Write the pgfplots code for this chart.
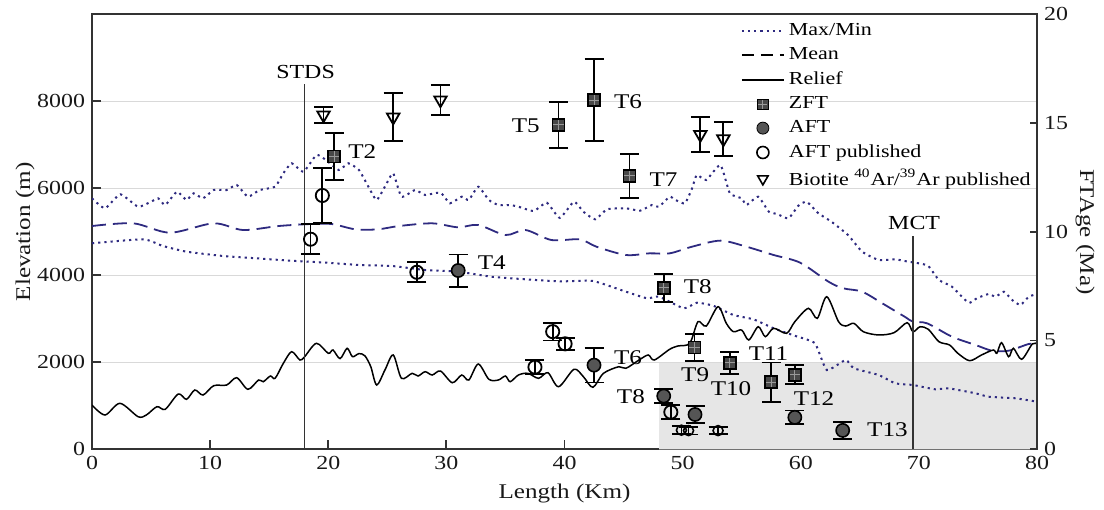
\documentclass[border=0pt]{standalone}
\usepackage{fontspec}
\setmainfont{Liberation Serif}[FakeStretch=1.2]
\usepackage{pgfplots}
\pgfplotsset{compat=1.18}
\usepackage{pgfplotstable}

\definecolor{navyline}{HTML}{2E2A80}
\definecolor{axcol}{HTML}{333333}
\definecolor{shade}{HTML}{E6E6E6}
\definecolor{gridc}{HTML}{D9D9D9}
\definecolor{markfill}{HTML}{555555}
\definecolor{zftfill}{HTML}{484848}

% square with a light cross inside (ZFT)
\pgfdeclareplotmark{zft}{%
  \pgfpathrectangle{\pgfqpoint{-\pgfplotmarksize}{-\pgfplotmarksize}}{\pgfqpoint{2\pgfplotmarksize}{2\pgfplotmarksize}}%
  \pgfusepathqfillstroke
  \pgfscope
  \pgfsetstrokecolor{gray!80}%
  \pgfsetlinewidth{0.5bp}%
  \pgfpathmoveto{\pgfqpoint{-0.85\pgfplotmarksize}{0pt}}\pgfpathlineto{\pgfqpoint{0.85\pgfplotmarksize}{0pt}}%
  \pgfpathmoveto{\pgfqpoint{0pt}{-0.85\pgfplotmarksize}}\pgfpathlineto{\pgfqpoint{0pt}{0.85\pgfplotmarksize}}%
  \pgfusepathqstroke
  \endpgfscope
}

% elevation profiles (km, m)
\pgfplotstableread{
x y
0 5770
1.1 5540
2.4 5862
3.9 5577
5.0 5692
5.6 5770
6.2 5616
7.2 5922
8.0 5731
8.6 5885
9.4 5770
10.3 5961
11.4 5961
12.25 6076
13.2 5807
14.2 5961
15.5 6037
16.2 6345
16.9 6575
17.9 6382
19.0 6766
19.8 6651
20.9 6421
21.7 6575
22.6 6421
23.4 6037
24.1 5731
24.95 6115
25.5 6345
26.2 5807
27.35 5961
28.2 5846
29.5 5900
30.3 5655
31.3 5807
31.9 5731
32.7 6037
33.6 5731
34.4 5616
35.4 5616
36.1 5577
37.4 5478
38.5 5669
39.6 5320
40.8 5692
41.6 5462
42.6 5287
43.6 5517
45.2 5540
46.4 5485
47.4 5616
48.0 5577
48.9 5807
49.4 5731
50.2 5655
50.8 6000
51.2 6306
52.0 6191
53.2 6536
54.0 5885
55.0 5770
55.4 5616
56.4 5807
57.3 5462
58.0 5409
58.96 5310
59.8 5600
60.5 5692
61.5 5425
62.6 5232
64.0 4926
65.2 4543
66.6 4352
68.0 4367
69.1 4313
70.0 4276
70.8 4214
71.7 3892
72.8 3738
74.2 3370
74.9 3471
75.9 3570
76.5 3508
77.2 3623
77.9 3432
78.6 3317
79.3 3508
80 3570
}\maxtab

\pgfplotstableread{
x y
0 4736
4.35 4828
6.0 4674
8.0 4543
11.1 4444
13.9 4391
16.8 4336
19.9 4290
22.6 4237
25.4 4214
28.2 4122
31.0 4083
33.8 3968
36.7 3908
39.6 3860
42.4 3870
45.2 3623
47.0 3471
48.0 3508
50.1 3241
51.2 3370
52.6 3300
54.3 3087
56.0 2988
57.7 2782
59.5 2610
61.2 2437
62.2 1823
63.8 2053
64.5 1862
66.6 1708
68.0 1517
69.5 1478
71.4 1379
72.5 1402
74.8 1287
75.9 1209
78.2 1172
80 1094
}\mintab

\pgfplotstableread{
x y
0 5133
3.5 5195
6.6 4980
10.3 5195
12.8 5041
15.8 5133
18.5 5179
20.3 5179
22.3 5057
24.2 5057
26.0 5133
28.8 5195
31.0 5103
32.7 5157
35.0 4926
36.7 5041
38.9 4811
41.3 4826
42.7 4658
45.2 4467
47.2 4505
48.9 4505
50.8 4658
53.2 4797
55.4 4658
57.7 4467
59.95 4290
62.35 3853
63.6 3701
65.2 3623
66.9 3356
68.8 3048
69.5 2933
70.7 2896
72.8 2589
74.8 2398
76.2 2267
77.6 2267
79.3 2421
80 2421
}\meantab

\pgfplotstableread{
x y
0 1018
1.1 789
2.37 1057
3.9 750
4.6 789
5.5 980
6.2 920
7.3 1271
8.0 1149
8.7 1363
9.4 1248
10.3 1462
11.4 1478
12.25 1646
13.2 1379
14.1 1593
14.5 1554
15.1 1685
15.5 1632
16.2 1977
16.9 2244
17.6 2053
18.0 2129
19.0 2437
20.0 2207
20.4 2283
21.0 2085
21.6 2322
22.05 2130
22.6 2200
23.1 2150
23.6 1900
24.1 1478
24.8 1823
25.5 2168
26.2 1632
27.1 1747
27.6 1685
28.2 1784
28.8 1708
29.5 1800
30.5 1531
31.3 1708
31.9 1593
32.7 1961
33.6 1609
34.4 1593
35.0 1685
35.4 1554
36.1 1708
36.9 1747
37.8 1632
38.6 1761
39.5 1439
40.8 1839
41.6 1669
42.4 1425
43.3 1747
44.6 1899
45.2 1862
46.4 2069
47.1 2168
47.6 2053
48.9 2299
49.6 2375
50.6 2437
51.3 2933
52.0 2834
53.0 3278
53.7 2896
54.3 2703
55.0 2742
55.6 2513
56.4 2818
57.0 2589
57.7 2782
58.8 2667
59.5 2934
60.65 3241
61.4 3011
62.2 3508
63.2 2934
63.8 2834
64.5 2896
65.3 2703
66.6 2628
67.9 2681
69.0 2911
69.5 2703
70.1 2818
70.8 2759
71.7 2474
72.6 2398
73.3 2207
74.3 2037
75.3 2168
76.3 2283
76.6 2207
77.0 2451
77.6 2129
78.0 2322
78.7 2069
79.6 2421
80 2421
}\relieftab

% ages (km, Ma, error)
\pgfplotstableread{
x y e
20.5 13.46 1.09
39.5 14.92 1.05
42.5 16.06 1.90
45.5 12.57 1.00
48.4 7.42 0.64
51.0 4.68 0.61
54.0 3.97 0.51
57.5 3.09 0.90
59.5 3.43 0.44
}\zfttab

\pgfplotstableread{
x y e
31.0 8.22 0.74
42.5 3.87 0.80
48.4 2.45 0.31
51.05 1.60 0.40
59.5 1.47 0.31
63.55 0.87 0.40
}\afttab

\pgfplotstableread{
x y e
18.5 9.66 0.69
19.5 11.67 1.28
27.5 8.14 0.46
37.5 3.78 0.33
39.0 5.41 0.41
40.05 4.85 0.28
49.0 1.71 0.33
}\aftpubtab

\pgfplotstableread{
x y e
49.9 0.88 0.18
50.5 0.86 0.18
53.0 0.86 0.15
}\aftpubsmall

\pgfplotstableread{
x y e
19.6 15.37 0.38
25.5 15.27 1.10
29.5 16.06 0.69
51.5 14.47 0.80
53.45 14.27 0.78
}\biotab

\begin{document}
\begin{tikzpicture}
\pgfplotsset{
  base/.style={
    scale only axis, width=472.5bp, height=217.5bp,
    xmin=0, xmax=80,
    axis line style={axcol, line width=0.9bp},
    tick style={axcol, line width=0.9bp},
    tick align=inside,
    scaled y ticks=false, scaled x ticks=false,
    tick label style={font=\fontsize{10}{12}\selectfont, text=black!90},
    label style={font=\fontsize{10.5}{12}\selectfont, text=black!90},
    /pgf/number format/1000 sep={},
    /pgf/number format/assume math mode=true,
  },
  ebar/.style={error bars/.cd, y dir=both, y explicit,
    error bar style={black, line width=0.9bp},
    error mark options={rotate=90, black, line width=0.9bp, mark size=4.75bp}},
}
\begin{axis}[base, name=ax1,
  ymin=0, ymax=10000,
  xtick={0,10,...,80}, ytick={0,2000,...,8000},
  major tick length=4.5bp,
  xtick pos=bottom, ytick pos=left,
  ymajorgrids, grid style={gridc, line width=0.7bp},
  xlabel={Length (Km)}, ylabel={Elevation (m)},
  xlabel style={at={(axis description cs:0.5,-0.1005)}, anchor=center},
  ylabel style={at={(axis description cs:-0.0709,0.5)}, anchor=center},
]
\addplot[fill=shade, draw=none] coordinates {(48,0)(48,2000)(80,2000)(80,0)} \closedcycle;
\addplot[gridc, line width=0.7bp] coordinates {(48,2000)(80,2000)};
\addplot[navyline, line width=1bp, dash pattern=on 1.1bp off 2bp, smooth, tension=0.3] table {\maxtab};
\addplot[navyline, line width=1bp, dash pattern=on 1.1bp off 2bp, smooth, tension=0.3] table {\mintab};
\addplot[navyline, line width=0.9bp, dash pattern=on 7bp off 3.5bp, smooth, tension=0.5] table {\meantab};
\addplot[black, line width=0.75bp, smooth, tension=0.5] table {\relieftab};
\addplot[axcol, line width=0.6bp] coordinates {(18,0)(18,8400)};
\addplot[axcol, line width=0.6bp] coordinates {(69.5,0)(69.5,4900)};
\node[font=\fontsize{10}{12}\selectfont] at (axis cs:18.08,8680) {STDS};
\node[font=\fontsize{10}{12}\selectfont] at (axis cs:69.6,5195) {MCT};
\end{axis}

\begin{axis}[base,
  ymin=0, ymax=20, ytick={0,5,...,20},
  axis x line=none, axis y line*=right,
  major tick length=3.5bp,
  ylabel={FTAge (Ma)},
  ylabel style={at={(axis description cs:1.0508,0.5)}, anchor=center, rotate=180},
  legend style={at={(1,1)}, anchor=north east, yshift=-1.5bp, draw=none, fill=none,
    font=\fontsize{9.2}{10}\selectfont, row sep=0.5bp, inner sep=1bp,
    cells={anchor=west}},
  legend image code/.code={\draw[mark repeat=2,mark phase=2,#1] plot coordinates {(0bp,0bp)(10.5bp,0bp)(21bp,0bp)};},
]
\addlegendimage{no markers, navyline, line width=1bp, dash pattern=on 1.1bp off 2bp}
\addlegendentry{Max/Min}
\addlegendimage{no markers, black, line width=0.8bp, dash pattern=on 6bp off 3.5bp}
\addlegendentry{Mean}
\addlegendimage{no markers, black, line width=0.8bp}
\addlegendentry{Relief}
\addlegendimage{only marks, mark=zft, mark size=2.6bp, draw=black, fill=zftfill}
\addlegendentry{ZFT}
\addlegendimage{only marks, mark=*, mark size=3bp, draw=black, fill=markfill}
\addlegendentry{AFT}
\addlegendimage{only marks, mark=o, mark size=3bp, draw=black, line width=0.8bp}
\addlegendentry{AFT published}
\addlegendimage{only marks, mark=triangle, mark size=3bp, mark options={rotate=180}, draw=black, line width=0.8bp}
\addlegendentry{Biotite \textsuperscript{40}Ar/\textsuperscript{39}Ar published}

\addplot[forget plot, only marks, mark=o, mark size=3.3bp, line width=0.9bp, black, ebar] table[x=x, y=y, y error=e] {\aftpubtab};
\addplot[forget plot, only marks, mark=o, mark size=2.5bp, line width=0.8bp, black, ebar] table[x=x, y=y, y error=e] {\aftpubsmall};
\addplot[forget plot, only marks, mark=triangle, mark size=3.6bp, mark options={rotate=180}, line width=0.9bp, black, ebar] table[x=x, y=y, y error=e] {\biotab};
\addplot[forget plot, only marks, mark=zft, mark size=3bp, draw=black, fill=zftfill, line width=0.8bp, ebar] table[x=x, y=y, y error=e] {\zfttab};
\addplot[forget plot, only marks, mark=*, mark size=3.3bp, draw=black, fill=markfill, line width=0.8bp, ebar] table[x=x, y=y, y error=e] {\afttab};

\begin{scope}[every node/.style={font=\fontsize{10.5}{12}\selectfont}]
\node[anchor=west] at (axis cs:21.1,13.7) {T2};
\node[anchor=east] at (axis cs:38.5,14.87) {T5};
\node[anchor=west] at (axis cs:43.6,15.97) {T6};
\node[anchor=west] at (axis cs:46.6,12.38) {T7};
\node[anchor=west] at (axis cs:32.06,8.6) {T4};
\node[anchor=west] at (axis cs:49.5,7.48) {T8};
\node[anchor=west] at (axis cs:43.6,4.21) {T6};
\node[anchor=east] at (axis cs:47.4,2.42) {T8};
\node at (axis cs:51.06,3.42) {T9};
\node at (axis cs:54.1,2.8) {T10};
\node at (axis cs:57.27,4.41) {T11};
\node at (axis cs:61.12,2.31) {T12};
\node[anchor=west] at (axis cs:65.03,0.89) {T13};
\end{scope}
\end{axis}
\path ([xshift=-46bp,yshift=-27.35bp]ax1.south west) rectangle ([xshift=33.5bp,yshift=7.15bp]ax1.north east);
\end{tikzpicture}
\end{document}
